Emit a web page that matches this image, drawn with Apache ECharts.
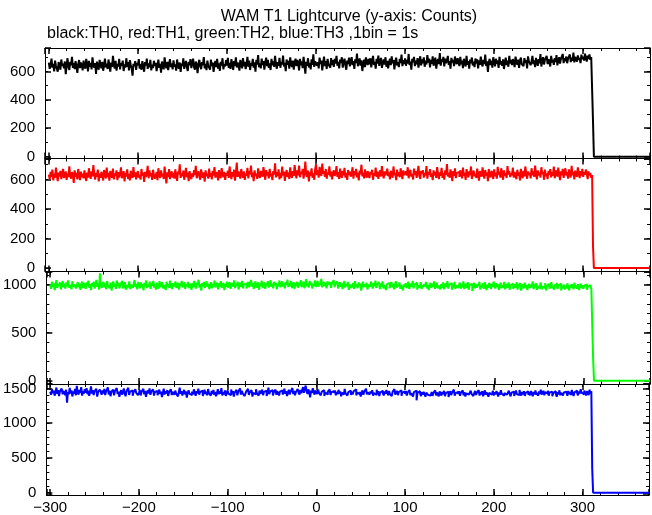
<!DOCTYPE html>
<html>
<head>
<meta charset="utf-8">
<script src="https://cdn.jsdelivr.net/npm/echarts@6/dist/echarts.min.js"></script>
<style>
html,body{margin:0;padding:0;background:#fff;}
#chart{width:652px;height:515px;}
</style>
</head>
<body>
<div id="chart"></div>
<script>
// ---- DATA (counts per 1 s bin) ----
const titleText = 'WAM T1 Lightcurve (y-axis: Counts)';
const subtitleText = 'black:TH0, red:TH1, green:TH2, blue:TH3 ,1bin = 1s';
const binWidth = 1;          // seconds per bin
const lastBinEnd = 311;      // end of the last full bin (s)
const cutoffEnd = 312;       // end of the partial bin at the drop
const tailEnd = 375;         // end of the zero tail

const th0 = [
662,618,645,690,627,653,601,676,640,633,598,665,647,612,684,639,655,622,670,581,
648,693,630,611,667,644,702,625,659,616,672,637,590,651,680,624,663,645,608,676,
641,619,688,652,600,674,633,661,615,699,646,627,658,583,669,636,612,681,650,623,
667,605,642,690,628,655,617,684,639,598,662,631,710,647,620,675,606,653,636,689,
614,658,640,676,603,649,627,693,632,665,608,680,645,621,571,654,638,672,611,660,
643,687,620,652,612,673,635,598,666,641,690,618,657,630,682,607,648,624,675,639,
661,602,646,683,625,654,591,670,637,615,699,642,623,668,609,652,686,631,657,614,
678,633,649,606,684,641,620,663,596,655,639,692,618,651,674,629,603,667,644,686,
624,659,690,631,612,670,646,588,657,682,637,616,665,643,701,622,654,609,676,640,
651,613,683,639,662,597,648,674,630,689,620,656,604,668,641,693,615,652,635,679,
642,696,625,660,618,687,650,611,672,639,700,628,663,645,606,681,653,622,694,637,
668,616,654,703,633,676,610,659,641,688,627,664,598,682,649,715,630,657,621,691,
645,673,612,662,697,638,681,625,656,610,688,644,670,632,709,651,619,666,640,695,
626,668,650,712,635,660,602,684,646,674,620,699,655,631,676,612,663,690,637,681,
659,607,688,644,670,623,702,651,585,667,640,693,628,661,614,686,647,720,632,670,
684,641,665,622,697,653,676,608,660,705,638,672,617,689,650,663,626,694,645,679,
632,688,655,710,640,668,621,683,659,700,627,665,690,644,612,677,652,698,636,670,
701,645,672,618,686,660,725,637,665,692,641,678,603,655,683,630,699,664,645,688,
650,693,628,674,709,646,667,620,688,656,712,639,672,695,625,661,684,648,700,633,
675,621,662,690,644,706,657,680,614,671,697,642,665,631,688,659,718,637,679,652,
692,640,681,655,723,646,670,612,689,664,702,638,676,651,694,627,668,707,643,684,
658,699,633,676,649,715,662,690,628,681,654,706,640,671,697,620,665,688,652,729,
641,684,667,702,635,690,658,676,710,646,672,620,695,663,682,638,705,669,651,693,
667,638,702,650,676,623,689,661,635,710,647,673,619,684,658,698,642,669,630,691,
655,685,622,678,646,704,660,635,681,652,718,638,671,597,666,689,645,676,627,700,
668,636,689,655,678,625,702,649,673,640,685,617,664,697,645,676,633,710,656,681,
644,687,662,630,704,669,647,683,625,675,698,652,666,637,693,660,680,621,706,673,
683,644,670,709,652,677,631,695,664,640,686,658,722,635,673,700,649,681,667,710,
651,687,670,635,710,663,682,647,693,666,715,643,674,700,655,688,677,723,659,694,
672,705,658,691,680,719,666,697,675,733,664,702,685,670,713,681,696,659,718,687,
704,676,725,693,670,712,687,720,681,701,708
];
const th1 = [
633,601,652,618,667,594,640,612,681,625,589,646,620,658,603,637,672,610,629,655,
598,641,616,689,624,605,650,632,577,662,619,644,601,671,628,596,653,615,640,608,
661,622,590,647,613,676,631,604,655,620,698,635,599,644,618,667,587,639,611,652,
626,593,664,638,607,681,617,645,592,658,630,612,673,600,641,625,662,596,649,614,
640,682,609,631,656,587,644,620,668,603,637,594,659,626,611,684,618,648,601,635,
657,612,630,599,671,625,646,584,652,616,639,692,608,661,622,643,597,666,629,605,
618,650,595,676,633,610,662,621,640,603,687,629,574,648,617,670,602,638,655,613,
645,606,668,624,591,653,635,702,611,642,622,660,598,634,679,615,647,589,656,627,
602,641,617,664,629,693,608,637,656,620,599,668,631,612,647,585,662,623,640,606,
673,619,645,601,658,627,684,613,636,650,594,663,625,609,677,638,616,652,597,643,
626,660,611,688,634,603,649,620,666,592,640,715,618,654,630,606,671,637,612,655,
598,642,625,679,607,656,633,694,615,647,588,662,624,640,603,675,629,611,658,636,
619,684,640,598,663,627,649,608,672,621,641,596,657,633,710,614,650,623,668,601,
645,612,687,626,653,590,639,664,617,648,603,682,630,611,656,624,697,642,607,661,
628,694,615,652,638,672,606,645,721,633,618,660,587,649,626,676,612,641,598,667,
703,630,661,612,685,646,624,707,639,657,618,671,605,648,632,689,620,654,601,643,
662,625,640,691,617,650,603,673,634,610,658,628,679,613,645,597,664,631,652,619,
640,683,606,656,629,672,614,647,593,661,636,700,621,645,608,668,630,612,657,627,
610,651,634,666,598,643,625,680,617,653,604,639,662,620,691,633,608,655,627,646,
673,622,648,601,659,636,612,688,629,645,596,667,624,650,615,676,637,603,661,630,
618,654,627,683,608,642,665,620,637,600,674,631,656,611,648,692,625,604,659,640,
663,613,645,628,690,606,652,633,670,617,641,595,662,627,651,610,684,636,603,648,
626,679,611,644,599,661,632,704,620,646,612,668,637,589,657,624,676,609,643,631,
651,617,662,635,608,681,626,646,597,670,638,614,655,629,688,603,642,660,621,637,
610,673,628,592,657,640,619,682,633,606,664,625,649,588,671,630,615,658,642,603,
668,621,647,606,685,630,653,612,676,637,598,661,624,643,610,690,633,657,616,644,
627,680,613,651,639,602,666,625,648,594,672,634,609,659,620,688,641,605,654,630,
645,608,676,629,655,617,694,638,601,662,627,648,613,683,636,652,598,667,622,641,
603,658,631,670,614,649,626,687,608,641,662,619,680,633,595,655,628,672,611,646,
676,627,650,605,668,637,614,693,629,652,601,660,635,618,682,643,610,657,626,671,
618,650,632,667,641,603,655,627,644,612,630
];
const th2 = [
1002,958,1031,976,1015,943,990,1048,967,1008,985,1026,951,997,1039,972,1010,960,1022,983,
1045,969,998,1017,955,1036,981,1003,1021,962,994,1028,975,1012,948,1000,1033,966,1019,987,
957,1024,991,1042,970,1006,944,1016,983,1032,960,999,1051,978,1013,949,1120,992,968,1008,
1030,974,1011,953,1038,989,1003,965,1021,940,996,1035,977,1009,958,1044,986,1018,963,1001,
982,1040,961,1004,1027,948,995,1013,972,1036,954,1002,1020,969,987,1049,975,1010,951,1029,
997,963,1025,984,1006,942,1019,988,1046,966,1001,979,1033,956,1014,991,1039,971,1008,950,
1022,985,959,1037,975,1005,1028,962,996,1015,945,1031,982,1009,967,1043,990,955,1017,978,
1003,1034,968,992,1020,950,1011,986,1041,973,998,1024,957,1006,983,1030,964,1012,991,947,
1018,976,1040,989,961,1023,997,1052,970,1007,938,1016,984,1029,966,1002,1035,978,1011,954,
990,1027,963,1009,985,1044,972,1000,1021,953,1014,982,1038,967,996,1019,945,1008,979,1032,
969,1005,1026,958,993,1017,981,1046,964,1010,987,1033,951,999,1022,975,1040,962,1004,988,
1013,960,997,1030,974,1008,1050,982,1019,956,1001,1036,970,994,1025,948,1011,986,1042,967,
999,1024,957,1016,989,1037,971,1003,1048,979,1012,962,1031,995,1020,953,1007,985,1044,973,
1006,1035,981,1015,963,1028,998,1054,976,1010,989,1039,966,1003,1026,958,1017,984,1032,969,
1021,992,1047,975,1008,1033,964,1000,1058,983,1014,971,1039,996,1023,960,1011,988,1045,977,
1009,1041,980,1017,996,1062,973,1005,1030,987,1019,962,1036,1001,982,1027,968,1013,994,1048,
975,1012,993,1034,961,1004,1026,979,1015,955,998,1040,970,1008,985,1029,947,1002,1021,966,
994,1018,958,1037,980,1003,964,1025,988,1011,940,996,1031,973,1006,984,1022,951,1000,1014,
977,1033,996,960,1019,985,1043,968,1004,991,1027,954,1010,979,1036,962,998,1016,945,1007,
988,1020,963,1001,1029,974,1012,952,995,1038,970,1006,983,1024,958,997,1015,942,1003,980,
1016,965,999,1032,957,990,1011,976,1041,962,1003,985,1022,949,994,1009,971,1028,955,998,
973,1007,986,1030,961,1002,944,993,1019,968,1012,980,1035,958,996,1021,963,989,1008,952,
1005,970,1025,954,991,1014,976,1037,960,999,983,1018,947,1004,972,1029,957,994,1011,968,
984,1022,959,1001,973,1036,955,990,1013,966,1027,948,997,979,1009,934,988,1020,962,1003,
969,1008,985,1031,951,995,972,1015,958,1026,983,944,1002,967,1019,990,956,1011,975,1033,
992,961,1017,978,1004,946,989,1023,965,998,972,1030,953,987,1010,969,1025,948,994,976,
1012,957,985,1006,968,1028,950,993,974,1016,939,982,1003,962,1021,975,997,944,988,1009,
965,1001,976,1034,955,990,970,1013,947,986,1006,963,1024,952,980,998,968,1017,941,983,
974,1010,958,992,1027,962,985,949,1004,971,1019,955,993,977,1011,940,987,964,1002,950,
988,961,1015,973,942,997,966,1008,979,953,1021,970,991,958,1006,945,983,1012,963,994,
957,990,971,1003,948,980,962,995,975,952,968
];
const th3 = [
1452,1408,1489,1431,1467,1395,1443,1512,1420,1476,1389,1458,1430,1497,1414,1465,1438,1402,1481,1296,
1447,1415,1506,1428,1470,1384,1455,1423,1492,1401,1536,1442,1410,1478,1433,1519,1396,1461,1425,1487,
1439,1503,1417,1466,1392,1451,1528,1426,1473,1405,1459,1436,1495,1381,1448,1420,1484,1444,1409,1470,
1427,1491,1403,1456,1432,1515,1412,1468,1388,1449,1426,1482,1400,1463,1437,1505,1419,1454,1378,1441,
1474,1411,1446,1499,1423,1387,1460,1434,1508,1406,1452,1429,1471,1393,1445,1418,1486,1435,1461,1402,
1433,1477,1399,1450,1424,1493,1415,1462,1380,1439,1470,1426,1500,1408,1457,1431,1487,1397,1448,1422,
1463,1401,1440,1482,1419,1454,1376,1436,1496,1412,1458,1428,1475,1391,1444,1416,1489,1405,1450,1432,
1409,1468,1427,1451,1385,1443,1509,1421,1460,1398,1437,1478,1414,1455,1368,1431,1472,1425,1446,1404,
1456,1413,1486,1435,1394,1461,1429,1497,1410,1448,1422,1466,1389,1439,1480,1418,1453,1401,1490,1430,
1442,1395,1464,1420,1476,1407,1450,1386,1433,1488,1415,1457,1426,1502,1398,1445,1412,1470,1392,1437,
1470,1423,1448,1404,1485,1430,1459,1381,1441,1417,1478,1400,1452,1433,1499,1411,1464,1427,1446,1390,
1418,1457,1432,1493,1406,1444,1422,1475,1383,1436,1462,1413,1488,1428,1451,1397,1468,1420,1439,1481,
1403,1449,1425,1467,1391,1438,1512,1416,1455,1430,1474,1399,1442,1419,1483,1408,1461,1435,1398,1452,
1426,1470,1411,1445,1496,1421,1458,1389,1437,1480,1414,1451,1430,1505,1418,1463,1402,1447,1425,1490,
1441,1412,1478,1430,1457,1518,1436,1494,1540,1462,1420,1485,1447,1371,1466,1433,1503,1451,1410,1472,
1455,1417,1482,1436,1460,1400,1449,1425,1474,1391,1438,1466,1412,1453,1429,1487,1404,1444,1419,1461,
1432,1470,1402,1448,1416,1479,1426,1455,1387,1440,1463,1410,1491,1428,1451,1397,1445,1421,1467,1405,
1447,1413,1459,1431,1486,1400,1439,1465,1418,1450,1382,1437,1471,1409,1452,1425,1496,1414,1443,1428,
1411,1456,1427,1474,1395,1433,1449,1405,1480,1422,1458,1391,1441,1417,1466,1430,1399,1454,1423,1476,
1436,1401,1462,1419,1445,1388,1452,1428,1490,1410,1437,1465,1403,1448,1424,1471,1393,1439,1415,1457,
1420,1463,1397,1440,1414,1477,1402,1431,1455,1384,1446,1421,1468,1328,1435,1412,1460,1427,1389,1444,
1408,1452,1425,1381,1438,1463,1406,1429,1398,1417,1449,1392,1436,1413,1470,1400,1442,1419,1385,1457,
1430,1396,1447,1418,1465,1389,1433,1409,1452,1376,1424,1460,1403,1440,1415,1482,1397,1431,1410,1448,
1416,1459,1394,1437,1421,1470,1401,1444,1383,1428,1456,1412,1438,1399,1466,1420,1447,1390,1433,1462,
1405,1439,1423,1475,1396,1448,1414,1459,1387,1432,1471,1408,1443,1417,1380,1436,1454,1411,1427,1468,
1398,1445,1416,1461,1427,1383,1440,1409,1474,1420,1448,1395,1433,1458,1412,1439,1401,1466,1424,1386,
1437,1410,1453,1390,1431,1469,1418,1442,1403,1478,1426,1396,1449,1415,1460,1392,1435,1421,1457,1406,
1443,1399,1462,1425,1386,1447,1414,1471,1408,1438,1393,1455,1420,1482,1411,1430,1465,1401,1444,1419,
1426,1467,1395,1441,1418,1453,1388,1432,1406,1460,1421,1379,1445,1413,1472,1402,1436,1458,1397,1440,
1412,1451,1430,1394,1463,1419,1448,1405,1476,1427,1390,1443,1416,1468,1433,1400,1457,1424,1489,1438,
1450,1415,1470,1428,1398,1461,1435,1404,1480,1426,1459
];
const dropValues = [250, 150, 230, 340];   // partial bin at the cut-off
const tailValue = 0;
const xTickLabels = [-300, -200, -100, 0, 100, 200, 300];

// ---- LAYOUT / STYLE ----
const seriesList = [th0, th1, th2, th3];
const colors = ['#000000', '#ff0000', '#00ff00', '#0000ff'];
const panels = [
  {top: 48,    height: 110.5, min: -13, max: 765,  major: 200, minor: 100},
  {top: 158.5, height: 113,   min: -23, max: 742,  major: 200, minor: 100},
  {top: 271.5, height: 112.5, min: -34, max: 1138, major: 500, minor: 100},
  {top: 384,   height: 112,   min: -33, max: 1563, major: 500, minor: 100}
];
const xMin = -304.3, xMax = 375, xMajor = 100, xMinor = 20;
const FONT = '"Liberation Sans", Arial, Helvetica, sans-serif';

function fmtNum(v) {
  if (v < 0) return '\u2212' + (-v);
  return String(v + 0);
}

function buildData(vals, drop) {
  const n = vals.length;
  const out = [];
  for (let i = 0; i < n; i++) {
    out.push([lastBinEnd - binWidth * (n - i), vals[i]]);
  }
  out.push([lastBinEnd, drop]);
  out.push([cutoffEnd, tailValue]);
  out.push([tailEnd, tailValue]);
  return out;
}

const grid = [], xAxis = [], yAxis = [], series = [];
panels.forEach((p, i) => {
  grid.push({left: 45, right: 2, top: p.top, height: p.height, containLabel: false});
  const xBase = {
    gridIndex: i, type: 'value', min: xMin, max: xMax,
    splitLine: {show: false}, axisPointer: {show: false}
  };
  const mainX = xAxis.length;
  xAxis.push(Object.assign({}, xBase, {
    position: 'bottom', minInterval: xMajor, maxInterval: xMajor,
    axisLine: {show: true, onZero: false, lineStyle: {color: '#000', width: 1}},
    axisTick: {show: true, inside: true, length: 6, lineStyle: {color: '#000', width: 1.5}},
    axisLabel: {
      show: i === panels.length - 1, interval: 0, margin: 5,
      color: '#000', fontSize: 15, fontFamily: FONT,
      formatter: v => (xTickLabels.indexOf(Math.round(v)) >= 0 && Math.abs(v - Math.round(v)) < 1e-6) ? fmtNum(Math.round(v)) : ''
    }
  }));
  xAxis.push(Object.assign({}, xBase, {
    position: 'top', minInterval: xMajor, maxInterval: xMajor,
    axisLine: {show: true, onZero: false, lineStyle: {color: '#000', width: 1}},
    axisTick: {show: true, inside: true, length: 6, lineStyle: {color: '#000', width: 1.5}},
    axisLabel: {show: false}
  }));
  ['bottom', 'top'].forEach(pos => {
    xAxis.push(Object.assign({}, xBase, {
      position: pos, minInterval: xMinor, maxInterval: xMinor,
      axisLine: {show: false, onZero: false},
      axisTick: {show: true, inside: true, length: 3, lineStyle: {color: '#000', width: 1}},
      axisLabel: {show: false}
    }));
  });

  const yBase = {
    gridIndex: i, type: 'value', min: p.min, max: p.max,
    splitLine: {show: false}, axisPointer: {show: false}
  };
  const mainY = yAxis.length;
  yAxis.push(Object.assign({}, yBase, {
    position: 'left', minInterval: p.major, maxInterval: p.major,
    axisLine: {show: true, onZero: false, lineStyle: {color: '#000', width: 1}},
    axisTick: {show: true, inside: true, length: 6, lineStyle: {color: '#000', width: 1.5}},
    axisLabel: {
      show: true, interval: 0, margin: 10, color: '#000', fontSize: 15, fontFamily: FONT,
      formatter: v => (Math.abs(v / p.major - Math.round(v / p.major)) < 1e-6) ? fmtNum(Math.round(v)) : ''
    }
  }));
  yAxis.push(Object.assign({}, yBase, {
    position: 'right', minInterval: p.major, maxInterval: p.major,
    axisLine: {show: true, onZero: false, lineStyle: {color: '#000', width: 1}},
    axisTick: {show: true, inside: true, length: 6, lineStyle: {color: '#000', width: 1.5}},
    axisLabel: {show: false}
  }));
  ['left', 'right'].forEach(pos => {
    yAxis.push(Object.assign({}, yBase, {
      position: pos, minInterval: p.minor, maxInterval: p.minor,
      axisLine: {show: false, onZero: false},
      axisTick: {show: true, inside: true, length: 3, lineStyle: {color: '#000', width: 1}},
      axisLabel: {show: false}
    }));
  });

  series.push({
    type: 'line', xAxisIndex: mainX, yAxisIndex: mainY,
    data: buildData(seriesList[i], dropValues[i]),
    step: 'end', showSymbol: false, symbol: 'none', clip: true,
    sampling: null,
    lineStyle: {color: colors[i], width: 2},
    itemStyle: {color: colors[i]},
    emphasis: {disabled: true}, silent: true, z: 3
  });
});

const chart = echarts.init(document.getElementById('chart'), null, {renderer: 'canvas'});
chart.setOption({
  animation: false,
  backgroundColor: '#ffffff',
  grid, xAxis, yAxis, series,
  graphic: [
    {type: 'text', x: 349, y: 17, silent: true,
     style: {text: titleText, x: 0, y: 0, textAlign: 'center', textVerticalAlign: 'middle',
             font: '16px ' + FONT, fill: '#000'}},
    {type: 'text', x: 47, y: 34, silent: true,
     style: {text: subtitleText, x: 0, y: 0, textAlign: 'left', textVerticalAlign: 'middle',
             font: '16px ' + FONT, fill: '#000'}}
  ]
});
</script>
</body>
</html>
